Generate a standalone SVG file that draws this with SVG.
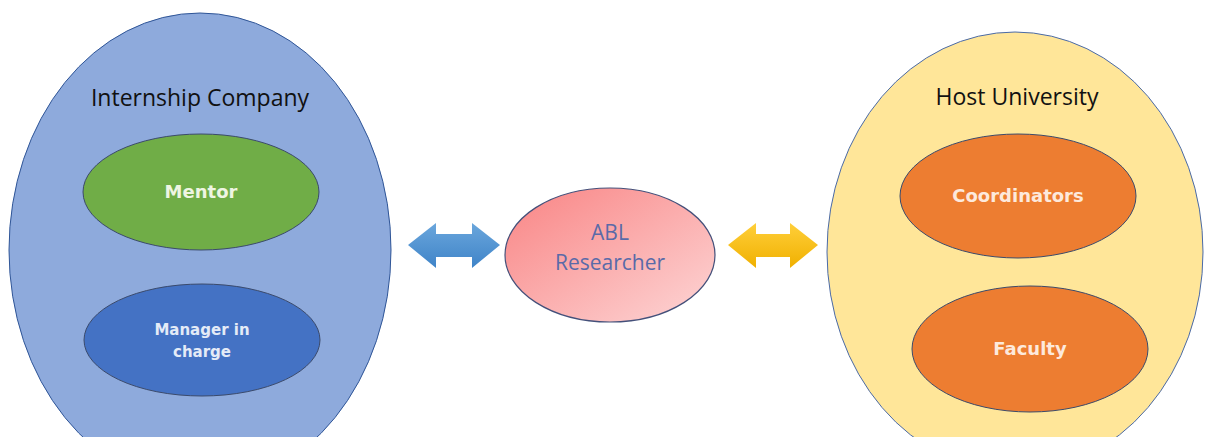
<svg xmlns="http://www.w3.org/2000/svg" width="1207" height="437" viewBox="0 0 1207 437">
<style>
.t{font-family:"Open Sans","Liberation Sans",sans-serif;text-anchor:middle}
.title{font-size:23px;fill:#111}
.lbl{font-family:"DejaVu Sans","Liberation Sans",sans-serif;font-weight:bold;font-size:18px;text-anchor:middle}
.sm{font-size:15px}
.in{stroke:#3b4a6b;stroke-width:1}
</style>
<defs>
<linearGradient id="abl" x1="0" y1="0" x2="1" y2="1">
<stop offset="0" stop-color="#f98484"/>
<stop offset="1" stop-color="#fdd6d6"/>
</linearGradient>
<linearGradient id="blu" x1="0" y1="0" x2="0" y2="1">
<stop offset="0" stop-color="#6aa6dc"/>
<stop offset="1" stop-color="#3f84c8"/>
</linearGradient>
<linearGradient id="yel" x1="0" y1="0" x2="0" y2="1">
<stop offset="0" stop-color="#ffcf3a"/>
<stop offset="1" stop-color="#f0b000"/>
</linearGradient>
</defs>
<rect width="1207" height="437" fill="#fff"/>
<g id="internship-company">
<ellipse cx="200" cy="250" rx="191" ry="237" fill="#8eaadc" stroke="#2f5597" stroke-width="1"/>
<text class="t title" x="200" y="106">Internship Company</text>
</g>
<g id="mentor">
<ellipse class="in" cx="201" cy="192" rx="118" ry="58" fill="#70ad47"/>
<text class="lbl" x="201" y="198" fill="#eef5e2">Mentor</text>
</g>
<g id="manager">
<ellipse class="in" cx="202" cy="340" rx="118" ry="56" fill="#4472c4"/>
<text class="lbl sm" x="202" y="335" fill="#e4ebf7">Manager in</text>
<text class="lbl sm" x="202" y="357" fill="#e4ebf7">charge</text>
</g>
<g id="abl-researcher">
<ellipse cx="610" cy="255" rx="105" ry="67" fill="url(#abl)" stroke="#44507a" stroke-width="1.2"/>
<text class="t" x="610" y="240" font-size="21" fill="#5a6aa8">ABL</text>
<text class="t" x="610" y="270" font-size="21" fill="#5a6aa8">Researcher</text>
</g>
<g id="host-university">
<ellipse cx="1015" cy="252" rx="188" ry="220" fill="#ffe699" stroke="#4a6aa8" stroke-width="1"/>
<text class="t title" x="1017" y="105">Host University</text>
</g>
<g id="coordinators">
<ellipse class="in" cx="1018" cy="196" rx="118" ry="62" fill="#ed7d31"/>
<text class="lbl" x="1018" y="202" fill="#fde9dc">Coordinators</text>
</g>
<g id="faculty">
<ellipse class="in" cx="1030" cy="349" rx="118" ry="63" fill="#ed7d31"/>
<text class="lbl" x="1030" y="355" fill="#fde9dc">Faculty</text>
</g>
<g id="connectors">
<polygon points="408,245 436,223 436,234 472,234 472,223 500,245 472,268 472,257 436,257 436,268" fill="url(#blu)"/>
<polygon points="728,245 756,223 756,234 790,234 790,223 818,245 790,268 790,257 756,257 756,268" fill="url(#yel)"/>
</g>
</svg>
